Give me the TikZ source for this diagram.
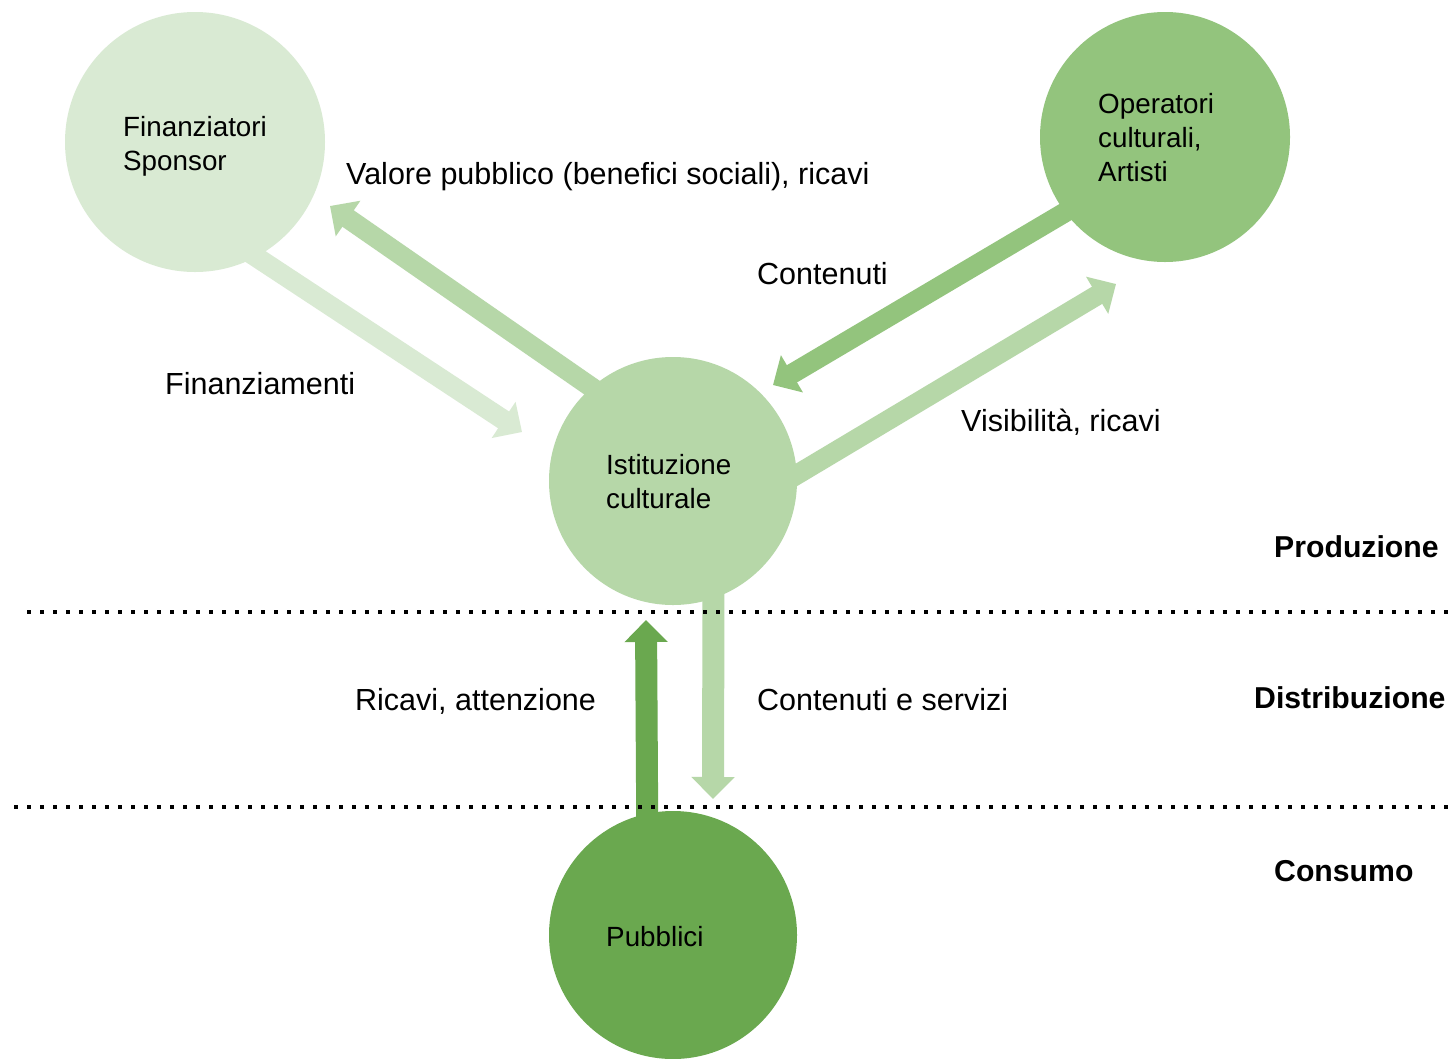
\documentclass[tikz,border=0pt]{standalone}
\usepackage{fontspec}
\setmainfont{Liberation Sans}
\usetikzlibrary{arrows.meta,calc}
\pgfdeclarelayer{background}
\pgfsetlayers{background,main}
\definecolor{gA}{HTML}{D9EAD3}
\definecolor{gB}{HTML}{B6D7A8}
\definecolor{gC}{HTML}{93C47D}
\definecolor{gD}{HTML}{6AA84F}
\begin{document}
\begin{tikzpicture}[x=1pt,y=-1pt,
  actor/.style={circle, draw=none, inner sep=0pt},
  flow/.style={line width=20pt, -{Triangle[width=42pt,length=22pt]}, shorten <=-14pt},
  vflow/.style={line width=22pt, -{Triangle[width=42pt,length=22pt]}, shorten <=-14pt},
  ctxt/.style={anchor=base west, inner sep=0pt, font=\fontsize{27.8}{34}\selectfont},
  lbl/.style={anchor=base west, inner sep=0pt, font=\fontsize{30.5}{36}\selectfont},
  zone/.style={anchor=base west, inner sep=0pt, font=\fontsize{30.2}{36}\selectfont\bfseries},
  sep/.style={line width=4pt, dash pattern=on 4pt off 9pt, black}
]
\useasboundingbox (0,0) rectangle (1453,1058);

% circles
\node[actor, fill=gA, minimum size=260pt] (fin) at (195,142) {};
\node[actor, fill=gC, minimum size=250pt] (op) at (1165,137) {};
\node[actor, fill=gB, minimum size=248pt] (ist) at (673,481) {};
\node[actor, fill=gD, minimum size=248pt] (pub) at (673,935) {};

% circle texts
\node[ctxt] (finT) at (123,136) {\begin{tabular}[t]{@{}l@{}}Finanziatori\\Sponsor\end{tabular}};
\node[ctxt] (opT) at (1098,113) {\begin{tabular}[t]{@{}l@{}}Operatori\\culturali,\\Artisti\end{tabular}};
\node[ctxt] (istT) at (606,474) {\begin{tabular}[t]{@{}l@{}}Istituzione\\culturale\end{tabular}};
\node[ctxt] (pubT) at (606,946) {Pubblici};

% arrow tips
\coordinate (finTip) at (522,432);
\coordinate (valTip) at (330,206);
\coordinate (conTip) at (773,385);
\coordinate (visTip) at (1116,284);
\coordinate (upTip) at (646,620);
\coordinate (downTip) at (713,799);

\begin{pgfonlayer}{background}
\fill[white] (0,0) rectangle (1453,1058);
\draw[flow, gA] (fin.-62.6) -- (finTip);
\draw[flow, gB] (ist.131.5) -- (valTip);
\draw[flow, gC] (op.217.7) -- (conTip);
\draw[flow, gB] (ist.3.75) -- (visTip);
\draw[vflow, gD] (pub.102.6) -- (upTip);
\draw[vflow, gB] (ist.-71.2) -- (downTip);
\end{pgfonlayer}

% labels
\node[lbl] (lVal) at (346,184) {Valore pubblico (benefici sociali), ricavi};
\node[lbl] (lCon) at (757,284) {Contenuti};
\node[lbl] (lFin) at (165,394) {Finanziamenti};
\node[lbl] (lVis) at (961,431) {Visibilità, ricavi};
\node[lbl] (lRic) at (355,710) {Ricavi, attenzione};
\node[lbl] (lCS) at (757,710) {Contenuti e servizi};

\node[zone] (zP) at (1274,557) {Produzione};
\node[zone] (zD) at (1254,708) {Distribuzione};
\node[zone] (zC) at (1274,881) {Consumo};

% separators
\coordinate (s1a) at (27,612);
\coordinate (s1b) at (1453,612);
\coordinate (s2a) at (14,807);
\coordinate (s2b) at (1453,807);
\draw[sep] (s1a) -- (s1b);
\draw[sep] (s2a) -- (s2b);
\end{tikzpicture}
\end{document}
